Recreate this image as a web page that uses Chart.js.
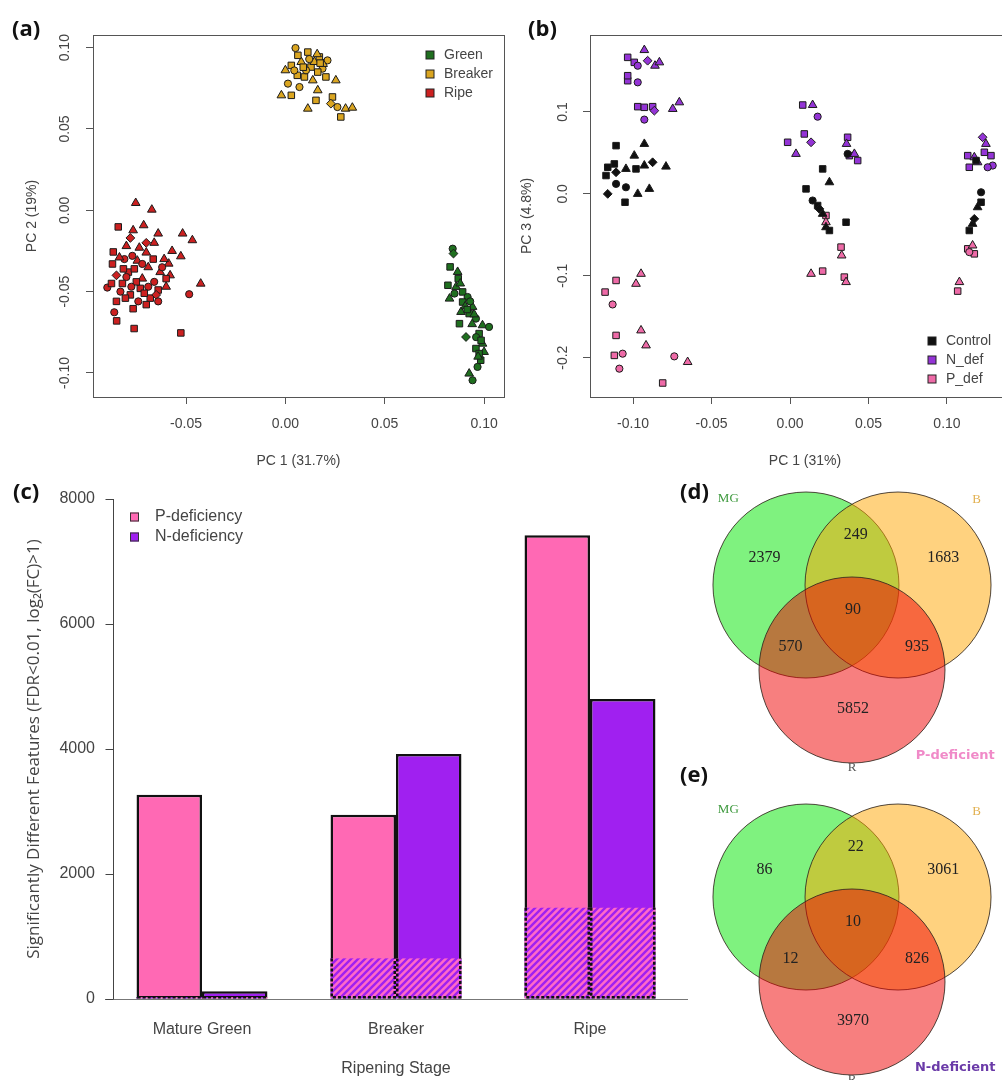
<!DOCTYPE html>
<html>
<head>
<meta charset="utf-8">
<script src="https://cdn.jsdelivr.net/npm/chart.js@4.4.1/dist/chart.umd.min.js"></script>
<style>
body { margin: 0; background: #fff; }
#page { position: relative; width: 1002px; height: 1080px; overflow: hidden; background: #fff; }
canvas { position: absolute; }
.tag { position: absolute; font: bold 22px "Open Sans", "Liberation Sans", sans-serif; line-height: 22px; color: #111; }
</style>
</head>
<body>
<div id="page">
  <canvas id="chartA" width="510" height="480" style="left:0;top:0"></canvas>
  <canvas id="chartB" width="530" height="480" style="left:500px;top:0"></canvas>
  <canvas id="chartC" width="700" height="610" style="left:0;top:470px"></canvas>
  <canvas id="chartD" width="312" height="310" style="left:690px;top:470px"></canvas>
  <canvas id="chartE" width="312" height="310" style="left:690px;top:770px"></canvas>
  <div class="tag" style="left:12px;top:16px">(a)</div>
  <div class="tag" style="left:528px;top:16px">(b)</div>
  <div class="tag" style="left:13px;top:479px">(c)</div>
  <div class="tag" style="left:680px;top:479px">(d)</div>
  <div class="tag" style="left:680px;top:762px">(e)</div>
</div>
<script>
// ---- data: panel (a), PC1 vs PC2, points as [x, y, shape]
var greenPts = [[0.0842,-0.0236,'c'],[0.0846,-0.0266,'d'],[0.0829,-0.0348,'s'],[0.0867,-0.0379,'t'],[0.0818,-0.0461,'s'],[0.0859,-0.0471,'t'],[0.0892,-0.0502,'s'],[0.0917,-0.0533,'c'],[0.0826,-0.0543,'t'],[0.0892,-0.0564,'s'],[0.0942,-0.0594,'t'],[0.0925,-0.0635,'s'],[0.0959,-0.0666,'c'],[0.0876,-0.0697,'s'],[0.0992,-0.0707,'t'],[0.1025,-0.0717,'c'],[0.0975,-0.0758,'s'],[0.0992,-0.0820,'t'],[0.0959,-0.0850,'s'],[0.1000,-0.0871,'t'],[0.0983,-0.0922,'s'],[0.0967,-0.0963,'c'],[0.0925,-0.1004,'t'],[0.0942,-0.1045,'c'],[0.0909,-0.0779,'d'],[0.0975,-0.0881,'s'],[0.0884,-0.0625,'t'],[0.0851,-0.0512,'c'],[0.0905,-0.0590,'t'],[0.0940,-0.0700,'t'],[0.0960,-0.0780,'c'],[0.0870,-0.0420,'s'],
  [0.0880,-0.0450,'t'],[0.0915,-0.0610,'s'],[0.0950,-0.0640,'t'],[0.0985,-0.0800,'s'],[0.0970,-0.0900,'t'],[0.0930,-0.0560,'c']];
var breakerPts = [[0.0051,0.0998,'c'],[0.0113,0.0973,'s'],[0.0171,0.0943,'s'],[0.0212,0.0922,'c'],[0.0000,0.0861,'t'],[0.0030,0.0891,'s'],[0.0080,0.0912,'t'],[0.0129,0.0881,'s'],[0.0187,0.0871,'c'],[0.0254,0.0799,'t'],[0.0237,0.0697,'s'],[0.0262,0.0635,'c'],[0.0303,0.0625,'t'],[0.0337,0.0631,'t'],[0.0279,0.0574,'s'],[-0.0020,0.0707,'t'],[0.0030,0.0707,'s'],[0.0071,0.0758,'c'],[0.0154,0.0676,'s'],[0.0113,0.0625,'t'],[0.0163,0.0738,'t'],[0.0229,0.0656,'d'],[0.0096,0.0820,'s'],[0.0013,0.0779,'c'],[0.0138,0.0799,'t'],[0.0204,0.0820,'s'],[0.0146,0.0912,'t'],[0.0104,0.0861,'c'],[0.0163,0.0850,'s'],[0.0063,0.0953,'s'],[0.0190,0.0900,'t'],[0.0060,0.0830,'s'],
  [0.0120,0.0930,'c'],[0.0160,0.0960,'t'],[0.0090,0.0880,'s'],[0.0175,0.0905,'s'],[0.0045,0.0860,'c']];
var ripePts = [[-0.0753,0.0045,'t'],[-0.0672,0.0004,'t'],[-0.0713,-0.0092,'t'],[-0.0766,-0.0123,'t'],[-0.0640,-0.0143,'t'],[-0.0517,-0.0143,'t'],[-0.0468,-0.0184,'t'],[-0.0570,-0.0250,'t'],[-0.0526,-0.0283,'t'],[-0.0587,-0.0328,'t'],[-0.0426,-0.0451,'t'],[-0.0660,-0.0200,'t'],[-0.0700,-0.0260,'t'],[-0.0610,-0.0300,'t'],[-0.0745,-0.0310,'t'],[-0.0630,-0.0380,'t'],[-0.0800,-0.0220,'t'],[-0.0690,-0.0350,'t'],[-0.0600,-0.0470,'t'],[-0.0720,-0.0420,'t'],[-0.0580,-0.0400,'t'],
  [-0.0841,-0.0102,'s'],[-0.0866,-0.0256,'s'],[-0.0766,-0.0605,'s'],[-0.0849,-0.0680,'s'],[-0.0761,-0.0727,'s'],[-0.0526,-0.0754,'s'],[-0.0870,-0.0330,'s'],[-0.0820,-0.0450,'s'],[-0.0780,-0.0520,'s'],[-0.0730,-0.0480,'s'],[-0.0680,-0.0540,'s'],[-0.0640,-0.0490,'s'],[-0.0850,-0.0560,'s'],[-0.0790,-0.0380,'s'],[-0.0600,-0.0420,'s'],[-0.0700,-0.0580,'s'],[-0.0750,-0.0440,'s'],
  [-0.0896,-0.0475,'c'],[-0.0861,-0.0627,'c'],[-0.0484,-0.0516,'c'],[-0.0810,-0.0300,'c'],[-0.0770,-0.0280,'c'],[-0.0720,-0.0330,'c'],[-0.0660,-0.0440,'c'],[-0.0830,-0.0500,'c'],[-0.0740,-0.0560,'c'],[-0.0690,-0.0470,'c'],[-0.0800,-0.0410,'c'],[-0.0620,-0.0350,'c'],
  [-0.0780,-0.0170,'d'],[-0.0700,-0.0200,'d'],[-0.0850,-0.0400,'d'],[-0.0650,-0.0520,'d'],
  [-0.0815,-0.0360,'s'],[-0.0775,-0.0470,'c'],[-0.0710,-0.0510,'s'],[-0.0665,-0.0300,'s'],[-0.0835,-0.0290,'t'],[-0.0760,-0.0360,'s'],[-0.0805,-0.0540,'s'],[-0.0640,-0.0560,'c'],[-0.0735,-0.0230,'t'],[-0.0875,-0.0450,'s']];
var pcaXTicksA = [-0.05, 0.00, 0.05, 0.10];
var pcaYTicksA = [-0.10, -0.05, 0.00, 0.05, 0.10];

// ---- data: panel (b), PC1 vs PC3
var controlPts = [[-0.1108,0.0589,'s'],[-0.0928,0.0610,'t'],[-0.0992,0.0467,'t'],[-0.1161,0.0325,'s'],[-0.1119,0.0366,'s'],[-0.1172,0.0224,'s'],[-0.1108,0.0264,'d'],[-0.1045,0.0305,'t'],[-0.0981,0.0305,'s'],[-0.0928,0.0346,'t'],[-0.0875,0.0386,'d'],[-0.0790,0.0333,'t'],[-0.1161,0.0000,'d'],[-0.1045,0.0081,'c'],[-0.1051,-0.0102,'s'],[-0.0970,0.0000,'t'],[-0.0896,0.0061,'t'],[-0.1108,0.0122,'c'],
  [0.0367,0.0488,'c'],[0.0208,0.0305,'s'],[0.0251,0.0142,'t'],[0.0102,0.0061,'s'],[0.0144,-0.0081,'c'],[0.0176,-0.0142,'s'],[0.0208,-0.0244,'t'],[0.0229,-0.0407,'t'],[0.0251,-0.0447,'s'],[0.0357,-0.0346,'s'],[0.0187,-0.0183,'d'],
  [0.1185,0.0407,'s'],[0.1217,0.0020,'c'],[0.1217,-0.0102,'s'],[0.1195,-0.0163,'t'],[0.1163,-0.0366,'t'],[0.1142,-0.0447,'s'],[0.1174,-0.0305,'d']];
var nDefPts = [[-0.1034,0.1667,'s'],[-0.0992,0.1606,'s'],[-0.0970,0.1565,'c'],[-0.0928,0.1756,'t'],[-0.0907,0.1626,'d'],[-0.0860,0.1565,'t'],[-0.0832,0.1606,'t'],[-0.1034,0.1382,'s'],[-0.0970,0.1362,'c'],[-0.0970,0.1065,'s'],[-0.0928,0.1057,'s'],[-0.0875,0.1065,'s'],[-0.0864,0.1016,'d'],[-0.0928,0.0907,'c'],[-0.0747,0.1037,'t'],[-0.0705,0.1118,'t'],[-0.1034,0.1443,'s'],
  [0.0081,0.1085,'s'],[0.0144,0.1085,'t'],[0.0176,0.0943,'c'],[-0.0015,0.0630,'s'],[0.0038,0.0488,'t'],[0.0091,0.0732,'s'],[0.0134,0.0630,'d'],[0.0367,0.0691,'s'],[0.0378,0.0467,'s'],[0.0431,0.0407,'s'],[0.0410,0.0488,'t'],[0.0360,0.0610,'t'],
  [0.1132,0.0467,'s'],[0.1174,0.0447,'t'],[0.1227,0.0691,'d'],[0.1248,0.0610,'t'],[0.1280,0.0467,'s'],[0.1291,0.0346,'c'],[0.1142,0.0325,'s'],[0.1195,0.0386,'t'],[0.1238,0.0508,'s'],[0.1259,0.0325,'c']];
var pDefPts = [[-0.1108,-0.1057,'s'],[-0.0949,-0.0976,'t'],[-0.0981,-0.1098,'t'],[-0.1178,-0.1199,'s'],[-0.1130,-0.1350,'c'],[-0.1108,-0.1728,'s'],[-0.1119,-0.1972,'s'],[-0.1087,-0.2134,'c'],[-0.0949,-0.1667,'t'],[-0.0917,-0.1850,'t'],[-0.0737,-0.1984,'c'],[-0.0652,-0.2053,'t'],[-0.0811,-0.2309,'s'],[-0.1066,-0.1951,'c'],
  [0.0229,-0.0264,'s'],[0.0229,-0.0346,'t'],[0.0325,-0.0650,'s'],[0.0329,-0.0752,'t'],[0.0134,-0.0976,'t'],[0.0208,-0.0943,'s'],[0.0346,-0.1016,'s'],[0.0357,-0.1077,'t'],
  [0.1132,-0.0671,'s'],[0.1163,-0.0630,'t'],[0.1174,-0.0732,'s'],[0.1142,-0.0711,'c'],[0.1079,-0.1077,'t'],[0.1068,-0.1187,'s']];
var pcaXTicksB = [-0.10, -0.05, 0.00, 0.05, 0.10];
var pcaYTicksB = [-0.2, -0.1, 0.0, 0.1];

// ---- data: panel (c), significant features per ripening stage
var stages = ['Mature Green', 'Breaker', 'Ripe'];
var pDeficiency = [3270, 2950, 7420];
var nDeficiency = [125, 3920, 4800];
var sharedPN = [30, 650, 1460];   // hatched part, common to both treatments
var barTicks = [0, 2000, 4000, 6000, 8000];

// ---- data: panels (d) and (e), Venn counts
// order: MG only, B only, R only, MG&B, MG&R, B&R, MG&B&R
var pDefCounts = [2379, 1683, 5852, 249, 570, 935, 90];
var nDefCounts = [86, 3061, 3970, 22, 12, 826, 10];

// ---- layout / styling
var sans = '"Liberation Sans", Arial, sans-serif';
var axisGrey = '#444';
var pcaFont = 14;
var barFont = 16;
var shapeStyle = { s: 'rect', c: 'circle', t: 'triangle', d: 'rectRot' };
var shapeRadius = { s: 4.6, c: 3.6, t: 5.0, d: 4.4 };

// venn geometry in circle-radius units
var vennXRange = [-1.742, 1.613];
var vennCircles = [{ x: -0.495, y: 0 }, { x: 0.495, y: 0 }, { x: 0, y: -0.914 }];
var vennCountPos = [[-0.94, 0.29], [0.98, 0.29], [0.01, -1.33], [0.04, 0.54], [-0.66, -0.66], [0.70, -0.66], [0.01, -0.27]];

function pcaDataset(label, pts, fill) {
    return {
        label: label,
        data: pts,
        backgroundColor: fill,
        borderColor: '#1b1b1b',
        borderWidth: 1,
        pointStyle: function(ctx) { return ctx.raw ? shapeStyle[ctx.raw[2]] : 'rect'; },
        pointRadius: function(ctx) { return ctx.raw ? shapeRadius[ctx.raw[2]] : 4; }
    };
}

// R style box, rotated y tick labels and a plain legend
var rPlotPlugin = {
    id: 'rPlot',
    beforeDatasetsDraw: function(chart, args, opts) {
        var a = chart.chartArea, ctx = chart.ctx;
        ctx.save();
        ctx.strokeStyle = '#555';
        ctx.lineWidth = 1;
        ctx.strokeRect(Math.round(a.left) + 0.5, Math.round(a.top) + 0.5, Math.round(a.right - a.left), Math.round(a.bottom - a.top));
        ctx.restore();
    },
    afterDraw: function(chart, args, opts) {
        var ctx = chart.ctx, ys = chart.scales.y;
        ctx.save();
        ctx.fillStyle = axisGrey;
        ctx.font = pcaFont + 'px ' + sans;
        ctx.textAlign = 'center';
        ctx.textBaseline = 'middle';
        opts.yTicks.forEach(function(v) {
            ctx.save();
            ctx.translate(chart.chartArea.left - opts.yOffset, ys.getPixelForValue(v));
            ctx.rotate(-Math.PI / 2);
            ctx.fillText(v.toFixed(opts.digits), 0, 0);
            ctx.restore();
        });
        // legend
        ctx.textAlign = 'left';
        chart.data.datasets.forEach(function(ds, i) {
            var y = opts.legendY + i * opts.legendRow;
            ctx.fillStyle = ds.backgroundColor;
            ctx.fillRect(opts.legendX - 4, y - 4, 8, 8);
            ctx.strokeStyle = '#222';
            ctx.strokeRect(opts.legendX - 4, y - 4, 8, 8);
            ctx.fillStyle = axisGrey;
            ctx.fillText(ds.label, opts.legendX + 14, y);
        });
        ctx.restore();
    }
};

function pcaChart(id, datasets, xr, yr, xTicks, yTicks, xTitle, yTitle, plug, yAxisW, padR, yTitlePad) {
    return new Chart(document.getElementById(id), {
        type: 'scatter',
        data: { datasets: datasets },
        options: {
            responsive: false,
            animation: false,
            events: [],
            layout: { padding: { top: 35, right: padR, left: 0, bottom: 0 } },
            plugins: { legend: { display: false }, tooltip: { enabled: false }, rPlot: plug },
            scales: {
                x: {
                    type: 'linear', min: xr[0], max: xr[1],
                    afterBuildTicks: function(s) { s.ticks = xTicks.map(function(v) { return { value: v }; }); },
                    afterFit: function(s) { s.height = 83; },
                    grid: { drawOnChartArea: false, drawTicks: true, tickLength: 7, color: '#555' },
                    border: { display: false },
                    ticks: { color: axisGrey, font: { family: sans, size: pcaFont }, padding: 12, maxRotation: 0,
                        callback: function(v) { return v.toFixed(2); } },
                    title: { display: true, text: xTitle, color: axisGrey, font: { family: sans, size: pcaFont }, padding: { top: 0, bottom: 10 } }
                },
                y: {
                    type: 'linear', min: yr[0], max: yr[1],
                    afterBuildTicks: function(s) { s.ticks = yTicks.map(function(v) { return { value: v }; }); },
                    afterFit: function(s) { s.width = yAxisW; },
                    grid: { drawOnChartArea: false, drawTicks: true, tickLength: 7, color: '#555' },
                    border: { display: false },
                    ticks: { display: false },
                    title: { display: true, text: yTitle, color: axisGrey, font: { family: sans, size: pcaFont }, padding: { top: yTitlePad, bottom: 0 } }
                }
            }
        },
        plugins: [rPlotPlugin]
    });
}

pcaChart('chartA', [
    pcaDataset('Green', greenPts, '#1f6f1f'),
    pcaDataset('Breaker', breakerPts, '#daa520'),
    pcaDataset('Ripe', ripePts, '#cc2020')
], [-0.0968, 0.110], [-0.1148, 0.1078], pcaXTicksA, pcaYTicksA, 'PC 1 (31.7%)', 'PC 2 (19%)',
   { yTicks: pcaYTicksA, digits: 2, yOffset: 28, legendX: 430, legendY: 55, legendRow: 19 }, 93, 2, 24);

pcaChart('chartB', [
    pcaDataset('Control', controlPts, '#111111'),
    pcaDataset('N_def', nDefPts, '#9434d6'),
    pcaDataset('P_def', pDefPts, '#ee6aa7')
], [-0.1274, 0.1465], [-0.248, 0.194], pcaXTicksB, pcaYTicksB, 'PC 1 (31%)', 'PC 3 (4.8%)',
   { yTicks: pcaYTicksB, digits: 1, yOffset: 27, legendX: 432, legendY: 341, legendRow: 19 }, 90, 10, 19);

// ---- panel (c)
function makeHatch() {
    var n = 7;
    var c = document.createElement('canvas');
    c.width = n; c.height = n;
    var g = c.getContext('2d');
    g.fillStyle = '#ff69c8';
    g.fillRect(0, 0, n, n);
    g.strokeStyle = '#a020f0';
    g.lineWidth = 2.4;
    g.beginPath();
    g.moveTo(0, n); g.lineTo(n, 0);
    g.moveTo(-n / 2, n / 2); g.lineTo(n / 2, -n / 2);
    g.moveTo(n / 2, n * 1.5); g.lineTo(n * 1.5, n / 2);
    g.stroke();
    return g.createPattern(c, 'repeat');
}

var barExtrasPlugin = {
    id: 'barExtras',
    afterDatasetsDraw: function(chart) {
        var ctx = chart.ctx, ys = chart.scales.y, hatch = makeHatch();
        ctx.save();
        [0, 1].forEach(function(di) {
            chart.getDatasetMeta(di).data.forEach(function(bar, j) {
                var p = bar.getProps(['x', 'width', 'base'], true);
                var left = p.x - p.width / 2, top = ys.getPixelForValue(sharedPN[j]);
                ctx.fillStyle = hatch;
                ctx.fillRect(left, top, p.width, p.base - top);
                ctx.setLineDash([3, 2]);
                ctx.strokeStyle = '#111';
                ctx.lineWidth = 2.5;
                ctx.beginPath();
                ctx.moveTo(left + 1.25, top); ctx.lineTo(left + 1.25, p.base - 1.25);
                ctx.lineTo(left + p.width - 1.25, p.base - 1.25); ctx.lineTo(left + p.width - 1.25, top);
                ctx.stroke();
                ctx.setLineDash([]);
            });
        });
        ctx.restore();
    },
    afterDraw: function(chart) {
        var ctx = chart.ctx, ys = chart.scales.y;
        var x = Math.round(chart.chartArea.left + 8) + 0.5;
        ctx.save();
        ctx.strokeStyle = axisGrey;
        ctx.lineWidth = 1;
        ctx.beginPath();
        ctx.moveTo(x, ys.getPixelForValue(barTicks[0]));
        ctx.lineTo(x, ys.getPixelForValue(barTicks[barTicks.length - 1]));
        barTicks.forEach(function(v) {
            var y = Math.round(ys.getPixelForValue(v)) + 0.5;
            ctx.moveTo(x - 8, y); ctx.lineTo(x, y);
        });
        ctx.stroke();
        // legend
        ctx.font = barFont + 'px ' + sans;
        ctx.textBaseline = 'middle';
        chart.data.datasets.forEach(function(ds, i) {
            var y = 47 + i * 20;
            ctx.fillStyle = ds.backgroundColor;
            ctx.fillRect(130, y - 4.5, 9, 9);
            ctx.strokeStyle = '#333';
            ctx.strokeRect(130.5, y - 4, 8, 8);
            ctx.fillStyle = axisGrey;
            ctx.fillText(ds.label, 155, y);
        });
        ctx.restore();
    }
};

new Chart(document.getElementById('chartC'), {
    type: 'bar',
    data: {
        labels: stages,
        datasets: [
            { label: 'P-deficiency', data: pDeficiency, backgroundColor: '#ff69b4' },
            { label: 'N-deficiency', data: nDeficiency, backgroundColor: '#a020f0' }
        ]
    },
    options: {
        responsive: false,
        animation: false,
        events: [],
        layout: { padding: { top: 29, right: 13, left: 0, bottom: 0 } },
        datasets: { bar: { categoryPercentage: 0.675, barPercentage: 1.0, borderWidth: 2.5, borderColor: '#111', borderSkipped: false } },
        plugins: { legend: { display: false }, tooltip: { enabled: false } },
        scales: {
            x: {
                afterFit: function(s) { s.height = 81; },
                grid: { drawOnChartArea: false, drawTicks: false },
                border: { display: true, color: '#777', width: 1 },
                ticks: { color: axisGrey, font: { family: sans, size: barFont }, padding: 21 },
                title: { display: true, text: 'Ripening Stage', color: axisGrey, font: { family: sans, size: barFont }, padding: { top: 0, bottom: 2 } }
            },
            y: {
                min: 0, max: 8000,
                afterBuildTicks: function(s) { s.ticks = barTicks.map(function(v) { return { value: v }; }); },
                afterFit: function(s) { s.width = 105; },
                grid: { drawOnChartArea: false, drawTicks: false },
                border: { display: false },
                ticks: { color: axisGrey, font: { family: sans, size: barFont }, padding: 10, callback: function(v) { return String(v); } },
                title: { display: true, text: 'Significantly Different Features (FDR<0.01, log\u2082(FC)>1)', color: axisGrey,
                    font: { family: '"Open Sans", "Liberation Sans", sans-serif', size: 17 }, padding: { top: 24, bottom: 0 } }
            }
        }
    },
    plugins: [barExtrasPlugin]
});

// ---- panels (d), (e)
var vennPlugin = {
    id: 'venn',
    afterDatasetsDraw: function(chart, args, opts) {
        var ctx = chart.ctx, xs = chart.scales.x, ys = chart.scales.y;
        function px(u) { return xs.getPixelForValue(u); }
        function py(u) { return ys.getPixelForValue(u); }
        ctx.save();
        ctx.textAlign = 'center';
        ctx.textBaseline = 'middle';
        ctx.font = '16px "Liberation Serif", serif';
        ctx.fillStyle = '#222';
        opts.counts.forEach(function(n, i) {
            ctx.fillText(String(n), px(vennCountPos[i][0]), py(vennCountPos[i][1]));
        });
        ctx.font = '13px "Liberation Serif", serif';
        ctx.fillStyle = '#3f9a3f';
        ctx.fillText('MG', px(-1.33), py(0.935));
        ctx.fillStyle = '#e2b050';
        ctx.fillText('B', px(1.34), py(0.914));
        ctx.fillStyle = '#555';
        ctx.fillText('R', px(0), py(-1.96));
        ctx.font = 'bold 13px "DejaVu Sans", sans-serif';
        ctx.fillStyle = opts.titleColor;
        ctx.fillText(opts.title, px(1.11), py(-1.83));
        ctx.restore();
    }
};

function vennChart(id, counts, yr, title, titleColor) {
    return new Chart(document.getElementById(id), {
        type: 'bubble',
        data: {
            datasets: [{
                data: vennCircles,
                backgroundColor: ['rgba(0,230,0,0.5)', 'rgba(255,165,0,0.5)', 'rgba(240,0,0,0.5)'],
                borderColor: 'rgba(50,40,30,0.85)',
                borderWidth: 1,
                // one unit of the x scale = one circle radius (chart area spans the whole canvas)
                radius: function(ctx) { return ctx.chart.width / (vennXRange[1] - vennXRange[0]); },
                clip: false
            }]
        },
        options: {
            responsive: false,
            animation: false,
            events: [],
            layout: { padding: 0, autoPadding: false },
            plugins: { legend: { display: false }, tooltip: { enabled: false }, venn: { counts: counts, title: title, titleColor: titleColor } },
            scales: {
                x: { type: 'linear', min: vennXRange[0], max: vennXRange[1], display: false },
                y: { type: 'linear', min: yr[0], max: yr[1], display: false }
            }
        },
        plugins: [vennPlugin]
    });
}

vennChart('chartD', pDefCounts, [-2.097, 1.237], 'P-deficient', '#f08ac8');
vennChart('chartE', nDefCounts, [-1.968, 1.366], 'N-deficient', '#6a3aa8');
</script>
</body>
</html>
